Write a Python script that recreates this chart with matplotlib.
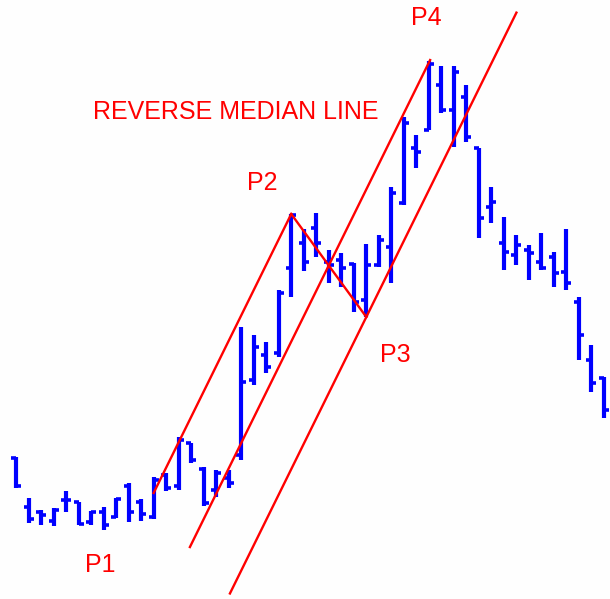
import numpy as np
import matplotlib
matplotlib.use("Agg")
import matplotlib.pyplot as plt

plt.rcParams['font.family'] = ['Liberation Sans', 'DejaVu Sans']

# --- OHLC data (arbitrary price units) ---
highs = [143, 102, 90, 92, 109, 98, 89, 93, 102, 117, 101, 123, 127, 163, 157, 133,
         130, 130, 273, 265, 258, 310, 386, 371, 387, 350, 347, 337, 356, 365, 413, 483,
         465, 539, 534, 534, 515, 452, 413, 383, 365, 355, 367, 348, 371, 303, 255, 223]
lows = [112, 77, 75, 74, 88, 75, 75, 70, 82, 78, 79, 81, 109, 110, 137, 94,
        103, 112, 140, 215, 227, 243, 303, 329, 343, 317, 313, 288, 283, 333, 317, 395,
        432, 470, 487, 453, 458, 362, 377, 330, 335, 320, 330, 313, 310, 240, 208, 182]
opens = [142, 93, 88, 79, 100, 98, 78, 88, 83, 114, 98, 83, 125, 114, 157, 131,
         110, 122, 145, 220, 245, 247, 332, 357, 372, 338, 340, 336, 300, 335, 353, 397,
         452, 470, 515, 490, 503, 452, 393, 357, 345, 350, 338, 343, 328, 298, 240, 222]
closes = [114, 81, 85, 90, 100, 76, 88, 75, 101, 88, 86, 120, 112, 160, 140, 97,
          127, 117, 218, 253, 233, 307, 385, 338, 357, 335, 332, 298, 335, 360, 407, 477,
          448, 536, 490, 528, 463, 382, 398, 348, 355, 347, 332, 327, 317, 265, 217, 190]

# pivots (bar index, price)
p1 = (11, 107)
p2 = (22, 386)
p3 = (28, 283)
p4 = (33, 539)

x = np.arange(len(highs))

fig = plt.figure(figsize=(6.10, 5.99), dpi=100)
fig.patch.set_facecolor('#fefefe')
ax = fig.add_axes([0, 0, 1, 1])
ax.set_facecolor('#fefefe')
ax.set_xlim(-1.28, 47.48)
ax.set_ylim(1, 600)
ax.axis('off')

blue = '#0000ff'
red = '#ff0000'
tick = 0.4

# red channel lines
slope = (p2[1] - p1[1]) / (p2[0] - p1[0])
mid = ((p2[0] + p3[0]) / 2, (p2[1] + p3[1]) / 2)
ax.plot([p1[0], p2[0]], [p1[1], p2[1]], color=red, lw=1.7, zorder=3)
ax.plot([p2[0], p3[0]], [p2[1], p3[1]], color=red, lw=1.7, zorder=3)
xm = np.array([13.9, 33.1])
ax.plot(xm, mid[1] + slope * (xm - mid[0]), color=red, lw=1.7, zorder=3)
xl = np.array([17.1, 40.0])
ax.plot(xl, p3[1] + slope * (xl - p3[0]), color=red, lw=1.7, zorder=3)

# OHLC bars
ax.vlines(x, lows, highs, color=blue, lw=3.0, zorder=2)
ax.hlines(opens, x - tick, x, color=blue, lw=2.6, zorder=2)
ax.hlines(closes, x, x + tick, color=blue, lw=2.6, zorder=2)

# labels
fs = 18
ax.text(6.7, 35, 'P1', color=red, fontsize=fs, ha='center', va='center')
ax.text(19.7, 417, 'P2', color=red, fontsize=fs, ha='center', va='center')
ax.text(30.3, 245, 'P3', color=red, fontsize=fs, ha='center', va='center')
ax.text(32.8, 582, 'P4', color=red, fontsize=fs, ha='center', va='center')
ax.text(17.6, 488, 'REVERSE MEDIAN LINE', color=red, fontsize=fs, ha='center', va='center')

fig.savefig('out.png', dpi=100, facecolor=fig.get_facecolor())
